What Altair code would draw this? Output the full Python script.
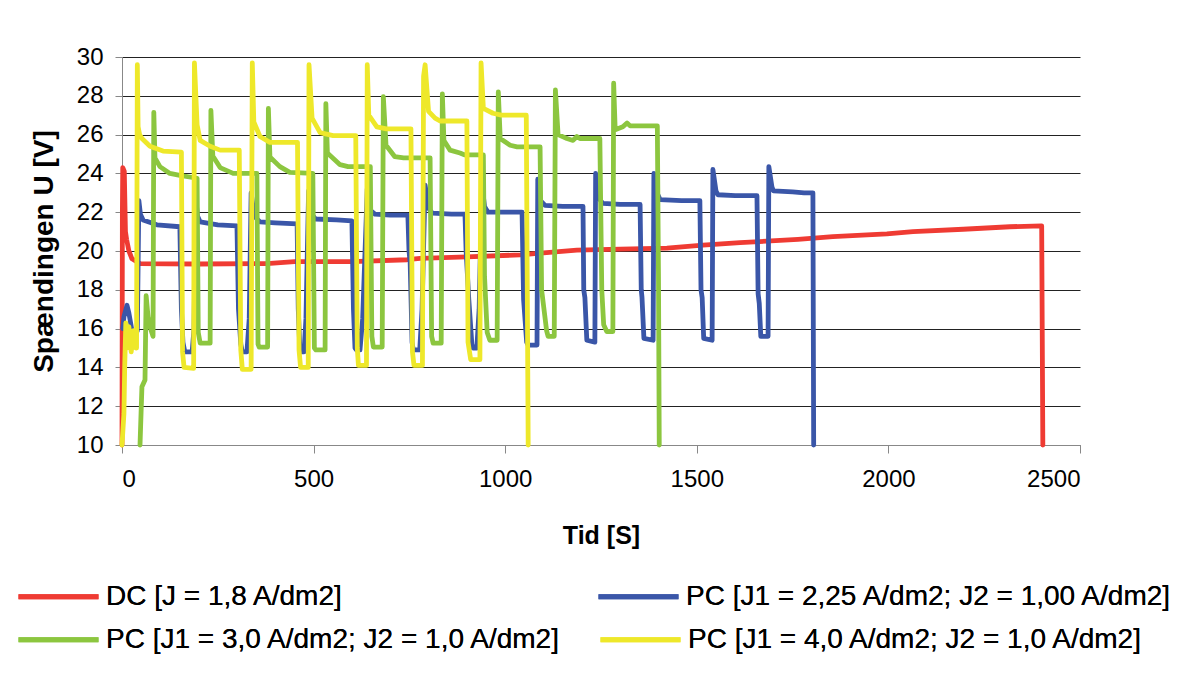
import altair as alt
import pandas as pd

SERIES = [
    "DC [J = 1,8 A/dm2]",
    "PC [J1 = 2,25 A/dm2; J2 = 1,00 A/dm2]",
    "PC [J1 = 3,0 A/dm2; J2 = 1,0 A/dm2]",
    "PC [J1 = 4,0 A/dm2; J2 = 1,0 A/dm2]",
]
COLORS = ["#EF3B33", "#3A56A8", "#8CC63F", "#EEE82A"]

X_TICKS = [0, 500, 1000, 1500, 2000, 2500]
Y_TICKS = [10, 12, 14, 16, 18, 20, 22, 24, 26, 28, 30]

# DC [J = 1,8 A/dm2]
DC_T = [0, 1, 2, 6, 9, 12, 18, 26, 47, 200, 378, 450, 600, 744, 778, 900, 1039, 1100,
        1187, 1300, 1422, 1516, 1613, 1764, 1855, 1996, 2064, 2195, 2317, 2400, 2403]
DC_V = [10, 22, 24.3, 24.1, 21.0, 20.6, 20.0, 19.6, 19.35, 19.33, 19.35, 19.45, 19.45, 19.55,
        19.62, 19.7, 19.8, 19.9, 20.05, 20.1, 20.15, 20.3, 20.43, 20.6, 20.74, 20.88, 21.0,
        21.12, 21.25, 21.3, 10]

# PC [J1 = 2,25 A/dm2; J2 = 1,00 A/dm2]
BL_T = [2, 5, 13, 18, 26, 38,
        40, 44, 48, 55, 91, 151, 155, 159, 164, 183,
        188, 192, 197, 204, 250, 300, 304, 310, 314, 326,
        332, 337, 345, 360, 400, 457, 460, 464, 468, 475,
        480, 487, 495, 505, 560, 600, 604, 608, 612, 621,
        628, 640, 648, 660, 700, 746, 749, 752, 757, 760, 777,
        783, 791, 800, 810, 860, 895, 898, 905, 913, 916, 926,
        932, 939, 946, 955, 1000, 1044, 1048, 1056, 1060, 1083,
        1085, 1092, 1104, 1150, 1203, 1205, 1208, 1213, 1234,
        1236, 1245, 1255, 1300, 1352, 1355, 1357, 1362, 1386,
        1388, 1396, 1404, 1460, 1508, 1511, 1514, 1518, 1540,
        1542, 1550, 1555, 1600, 1657, 1660, 1663, 1667, 1686,
        1688, 1696, 1700, 1750, 1780, 1803, 1805]
BL_V = [16.0, 16.6, 17.2, 16.8, 15.9, 15.8,
        15.9, 22.6, 21.9, 21.6, 21.35, 21.25, 17.0, 15.3, 14.8, 14.8,
        16.0, 22.8, 21.8, 21.5, 21.35, 21.3, 17.0, 15.2, 14.8, 14.8,
        16.5, 23.0, 21.8, 21.5, 21.45, 21.4, 17.0, 15.0, 14.8, 14.8,
        16.5, 23.1, 21.9, 21.65, 21.6, 21.55, 17.0, 15.0, 14.9, 14.9,
        16.5, 23.2, 22.1, 21.9, 21.85, 21.85, 20.0, 19.4, 15.3, 14.9, 14.9,
        17.0, 23.4, 22.2, 21.95, 21.9, 21.9, 20.0, 17.5, 15.2, 15.0, 15.0,
        17.0, 23.5, 22.3, 22.0, 22.0, 22.0, 17.5, 15.3, 15.15, 15.15,
        23.7, 22.6, 22.35, 22.3, 22.3, 18.0, 17.6, 15.4, 15.3,
        24.0, 22.7, 22.45, 22.4, 22.4, 18.0, 17.6, 15.5, 15.4,
        24.0, 23.0, 22.65, 22.6, 22.6, 18.0, 17.6, 15.5, 15.4,
        24.2, 23.1, 22.9, 22.85, 22.85, 17.8, 17.3, 15.6, 15.6,
        24.35, 23.3, 23.1, 23.05, 23.0, 23.0, 10]

# PC [J1 = 3,0 A/dm2; J2 = 1,0 A/dm2]
GR_T = [47, 52, 60, 63, 68, 76, 81,
        83, 86, 99, 125, 151, 196, 199, 204, 230,
        232, 237, 256, 290, 352, 355, 358, 380,
        382, 386, 412, 438, 498, 502, 506, 530,
        532, 536, 569, 590, 648, 652, 656, 679,
        682, 689, 712, 735, 804, 808, 812, 833,
        836, 840, 856, 882, 895, 943, 946, 953, 960, 979,
        982, 987, 1013, 1031, 1091, 1095, 1108, 1112, 1128,
        1131, 1138, 1161, 1177, 1187, 1195, 1247, 1252, 1257, 1265, 1281,
        1283, 1287, 1307, 1318, 1326, 1397, 1400, 1402]
GR_V = [10.0, 13.0, 13.35, 17.7, 16.6, 15.9, 15.6,
        27.15, 24.8, 24.35, 24.0, 23.9, 23.75, 15.8, 15.25, 15.25,
        27.25, 24.9, 24.3, 24.0, 24.0, 15.2, 15.05, 15.05,
        27.35, 24.85, 24.35, 24.05, 24.0, 15.0, 14.9, 14.9,
        27.6, 25.05, 24.45, 24.35, 24.35, 15.6, 15.05, 15.05,
        27.95, 25.45, 24.86, 24.8, 24.8, 15.6, 15.25, 15.25,
        28.1, 25.7, 25.2, 25.05, 24.95, 24.95, 18.7, 15.8, 15.4, 15.4,
        28.2, 25.8, 25.45, 25.37, 25.37, 18.0, 15.9, 15.6, 15.6,
        28.3, 26.0, 25.8, 25.7, 25.9, 25.8, 25.8, 18.0, 16.2, 15.85, 15.85,
        28.65, 26.25, 26.4, 26.6, 26.45, 26.45, 18.7, 10.0]

# PC [J1 = 4,0 A/dm2; J2 = 1,0 A/dm2]
YE_T = [0, 5, 7, 10, 13, 18, 24, 30, 36, 38,
        40, 42, 46, 52, 73, 107, 155, 158, 162, 187,
        189, 196, 204, 230, 256, 306, 310, 314, 337,
        340, 344, 360, 386, 458, 462, 466, 486,
        488, 496, 517, 551, 610, 614, 617, 638,
        640, 644, 665, 690, 754, 758, 762, 784,
        787, 791, 800, 817, 830, 900, 903, 910, 934,
        937, 943, 968, 990, 1055, 1060]
YE_V = [10.0, 11.6, 14.0, 16.3, 15.0, 16.1, 14.8, 15.9, 15.0, 15.0,
        29.6, 26.4, 26.0, 25.8, 25.4, 25.15, 25.1, 14.8, 14.0, 13.95,
        29.7, 26.5, 25.7, 25.4, 25.2, 25.2, 14.9, 13.9, 13.9,
        29.7, 26.65, 25.9, 25.6, 25.6, 14.9, 14.0, 14.0,
        29.6, 26.85, 26.1, 25.95, 25.95, 15.0, 14.1, 14.1,
        29.6, 27.0, 26.4, 26.3, 26.3, 14.8, 14.1, 14.1,
        29.0, 29.6, 27.2, 26.85, 26.7, 26.7, 15.3, 14.4, 14.4,
        29.7, 27.35, 27.1, 27.0, 27.0, 10.0]

ALL_T = [DC_T, BL_T, GR_T, YE_T]
ALL_V = [DC_V, BL_V, GR_V, YE_V]

rows = []
for name, ts, vs in zip(SERIES, ALL_T, ALL_V):
    for i, (t, v) in enumerate(zip(ts, vs)):
        rows.append({"t": t, "V": v, "serie": name, "i": i})
df = pd.DataFrame(rows)

FONT = "Liberation Sans"


def legend(legend_y, col_pad):
    return alt.Legend(
        title=None,
        orient="none",
        legendX=-106,
        legendY=legend_y,
        direction="horizontal",
        columns=2,
        columnPadding=col_pad,
        symbolType="stroke",
        symbolSize=6400,
        symbolStrokeWidth=5,
        labelFontSize=28,
        labelFont=FONT,
        labelColor="#000000",
        labelOffset=5,
        labelLimit=800,
        padding=0,
    )


# first legend row: DC and PC 2,25 ; second legend row: PC 3,0 and PC 4,0
enc_row1 = alt.Color(
    "serie:N",
    scale=alt.Scale(domain=SERIES[0:2], range=COLORS[0:2]),
    legend=legend(497, 244),
)
enc_row2 = alt.Stroke(
    "serie:N",
    scale=alt.Scale(domain=SERIES[2:4], range=COLORS[2:4]),
    legend=legend(540, 27),
)

x = alt.X(
    "t:Q",
    scale=alt.Scale(domain=[0, 2500], nice=False),
    axis=alt.Axis(
        values=X_TICKS,
        format="d",
        title="Tid [S]",
        grid=False,
        labelFontSize=24,
        titleFontSize=25,
        titleFontWeight="bold",
        tickSize=8,
        labelPadding=14,
        titlePadding=32,
        domainColor="#888888",
        tickColor="#888888",
        labelColor="#000000",
        titleColor="#000000",
        labelFont=FONT,
        titleFont=FONT,
    ),
)
y = alt.Y(
    "V:Q",
    scale=alt.Scale(domain=[10, 30], nice=False),
    axis=alt.Axis(
        values=Y_TICKS,
        title="Spændingen U [V]",
        grid=True,
        gridColor="#222222",
        gridWidth=1,
        labelFontSize=24,
        titleFontSize=28,
        titleFontWeight="bold",
        tickSize=7,
        labelPadding=12,
        titlePadding=18,
        domainColor="#888888",
        tickColor="#888888",
        labelColor="#000000",
        titleColor="#000000",
        labelFont=FONT,
        titleFont=FONT,
    ),
)

layers = []
for k, name in enumerate(SERIES):
    ch = alt.Chart(df[df["serie"] == name]).mark_line(
        strokeWidth=4.8, strokeJoin="round", strokeCap="round"
    )
    if k < 2:
        ch = ch.encode(x=x, y=y, color=enc_row1, order="i:Q")
    else:
        ch = ch.encode(x=x, y=y, stroke=enc_row2, order="i:Q")
    layers.append(ch)

chart = (
    alt.layer(*layers)
    .resolve_scale(color="independent", stroke="independent")
    .properties(
        width=958,
        height=388,
        autosize=alt.AutoSizeParams(type="none"),
        padding={"left": 114, "top": 49, "right": 92, "bottom": 244},
        background="#ffffff",
    )
    .configure_view(stroke=None)
)

chart.save("out.html", embed_options={"renderer": "svg", "actions": False})
